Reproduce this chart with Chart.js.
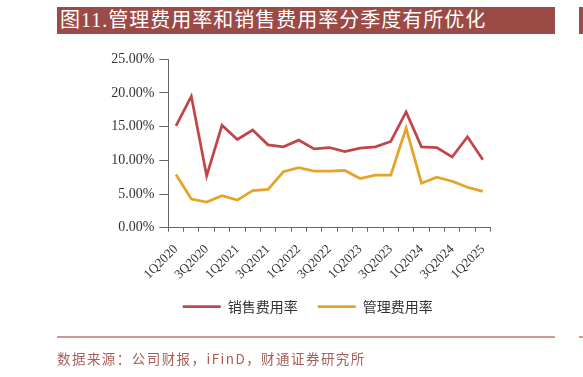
<!DOCTYPE html>
<html>
<head>
<meta charset="utf-8">
<script src="https://cdn.jsdelivr.net/npm/chart.js@4.4.0/dist/chart.umd.min.js"></script>
<style>
  body { margin: 0; background: #fff; }
  #wrap { position: relative; width: 583px; height: 377px; overflow: hidden; }
  #chart { position: absolute; left: 0; top: 0; }
  .band { position: absolute; top: 7px; height: 27px; background: #9b4a46; }
  .band span { position: absolute; left: 3px; top: 0; line-height: 27px; color: #fff;
    font-family: "Liberation Serif", "Noto Sans CJK SC", serif; font-size: 20px; letter-spacing: 1px; white-space: nowrap; }
  .rule { position: absolute; top: 336px; height: 2px; background: #cc9a95; }
  #source { position: absolute; left: 57px; top: 349px; line-height: 18px; color: #a65e58;
    font-family: "Noto Sans CJK SC", sans-serif; font-size: 13.5px; letter-spacing: 1.45px; white-space: nowrap; }
</style>
</head>
<body>
<div id="wrap">
  <div class="band" style="left:57px;width:498px"><span>图11.管理费用率和销售费用率分季度有所优化</span></div>
  <div class="band" style="left:579px;width:10px"></div>
  <canvas id="chart" width="583" height="377"></canvas>
  <div class="rule" style="left:57px;width:498px"></div>
  <div class="rule" style="left:579px;width:10px"></div>
  <div id="source">数据来源：公司财报，iFinD，财通证券研究所</div>
</div>
<script>
// 季度
var quarters = [
    "1Q2020", "2Q2020", "3Q2020", "4Q2020",
    "1Q2021", "2Q2021", "3Q2021", "4Q2021",
    "1Q2022", "2Q2022", "3Q2022", "4Q2022",
    "1Q2023", "2Q2023", "3Q2023", "4Q2023",
    "1Q2024", "2Q2024", "3Q2024", "4Q2024",
    "1Q2025"
];
// 销售费用率 (%)
var salesRate = [15.1, 19.5, 7.7, 15.2, 13.1, 14.5, 12.3, 12.0, 13.0, 11.7, 11.9, 11.3,
                 11.8, 12.0, 12.8, 17.2, 12.0, 11.9, 10.5, 13.5, 10.1];
// 管理费用率 (%)
var adminRate = [7.9, 4.25, 3.8, 4.75, 4.1, 5.5, 5.7, 8.3, 8.9, 8.4, 8.4, 8.5,
                 7.3, 7.8, 7.8, 14.8, 6.6, 7.5, 6.9, 6.0, 5.4];
var yTicks = [0, 5, 10, 15, 20, 25];

var axisColor = "#666666";
var labelColor = "#333333";

// 图例整体右移一点，和原图位置对齐
var legendShift = {
    id: "legendShift",
    afterLayout: function(chart) {
        if (chart.legend) {
            chart.legend.left += 12.5;
            chart.legend.right += 12.5;
        }
    }
};

var ctx = document.getElementById("chart").getContext("2d");
var chart = new Chart(ctx, {
    type: "line",
    data: {
        labels: quarters,
        datasets: [{
            label: "销售费用率",
            data: salesRate,
            borderColor: "#c1464a",
            backgroundColor: "#c1464a",
            borderWidth: 2.75,
            pointRadius: 0,
            tension: 0
        }, {
            label: "管理费用率",
            data: adminRate,
            borderColor: "#e5a328",
            backgroundColor: "#e5a328",
            borderWidth: 2.75,
            pointRadius: 0,
            tension: 0
        }]
    },
    plugins: [legendShift],
    options: {
        responsive: false,
        animation: false,
        devicePixelRatio: 1,
        layout: {
            padding: { top: 59.3, left: 100, right: 92.5, bottom: 53.3 }
        },
        plugins: {
            title: { display: false },
            tooltip: { enabled: false },
            legend: {
                position: "bottom",
                labels: {
                    usePointStyle: true,
                    pointStyle: "line",
                    pointStyleWidth: 38,
                    padding: 20,
                    color: labelColor,
                    font: { family: "Noto Sans CJK SC", size: 14 }
                }
            }
        },
        scales: {
            x: {
                offset: true,
                grid: { offset: true, drawOnChartArea: false, drawTicks: true, tickLength: 4, color: axisColor },
                border: { color: axisColor, width: 1 },
                ticks: {
                    autoSkip: false,
                    minRotation: 45,
                    maxRotation: 45,
                    padding: 10,
                    color: labelColor,
                    font: { family: "Liberation Serif", size: 13 },
                    callback: function(value, index) {
                        return index % 2 === 0 ? this.getLabelForValue(value) : "";
                    }
                },
                afterFit: function(scale) { scale.height = 52; }
            },
            y: {
                min: 0,
                max: 25,
                afterBuildTicks: function(scale) {
                    scale.ticks = yTicks.map(function(v) { return { value: v }; });
                },
                grid: { drawOnChartArea: false, drawTicks: true, tickLength: 9, color: axisColor },
                border: { color: axisColor, width: 1 },
                ticks: {
                    padding: 5,
                    color: labelColor,
                    font: { family: "Liberation Serif", size: 14 },
                    callback: function(value) { return value.toFixed(2) + "%"; }
                },
                afterFit: function(scale) { scale.width = 68.3; }
            }
        }
    }
});
</script>
</body>
</html>
